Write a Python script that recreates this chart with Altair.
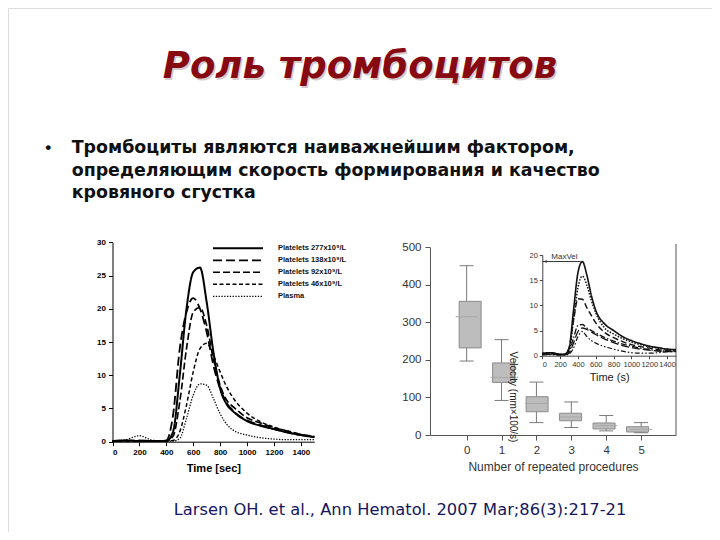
import altair as alt
import pandas as pd

# ---------------- header / footer text ----------------
TITLE = "Роль тромбоцитов"
BULLET_LINES = [
    "Тромбоциты являются наиважнейшим фактором,",
    "определяющим скорость формирования и качество",
    "кровяного сгустка",
]
CITATION = "Larsen OH. et al., Ann Hematol. 2007 Mar;86(3):217-21"
VELOCITY_LABEL = "Velocity (mm×100/s)"

# ---------------- left chart: clot formation curves ----------------
TIME_L = [0, 100, 200, 300, 400, 450, 500, 550, 600, 650, 700, 750, 800, 850, 900,
          1000, 1100, 1200, 1300, 1400, 1500]
P277 = [0.1, 0.2, 0.1, 0.1, 0.1, 1.5, 10.0, 20.0, 25.5, 26.2, 21.0, 13.5, 8.0, 5.6, 4.5,
        3.1, 2.4, 1.9, 1.4, 1.0, 0.7]
P138 = [0.1, 0.1, 0.2, 0.1, 0.2, 4.0, 14.0, 19.5, 21.6, 20.0, 16.5, 11.5, 8.0, 5.8, 4.6,
        3.2, 2.5, 1.9, 1.4, 1.0, 0.7]
P92 = [0.1, 0.1, 0.1, 0.1, 0.1, 0.8, 6.0, 14.0, 19.5, 20.2, 17.5, 12.5, 8.5, 6.2, 5.2,
       3.6, 2.8, 2.1, 1.6, 1.1, 0.8]
P46 = [0.1, 0.1, 0.1, 0.1, 0.1, 0.2, 1.5, 5.5, 10.5, 14.0, 14.8, 13.0, 10.5, 8.2, 6.5,
       4.3, 3.0, 2.2, 1.6, 1.1, 0.7]
PLASMA = [0.0, 0.3, 0.9, 0.2, 0.1, 0.1, 0.5, 3.5, 7.0, 8.7, 8.5, 6.5, 4.2, 2.6, 1.7,
          1.0, 0.6, 0.4, 0.3, 0.3, 0.3]
SERIES_L = ["Platelets 277x10⁹/L", "Platelets 138x10⁹/L", "Platelets 92x10⁹/L",
            "Platelets 46x10⁹/L", "Plasma"]
VALUES_L = [P277, P138, P92, P46, PLASMA]
X_TICKS_L = [0, 200, 400, 600, 800, 1000, 1200, 1400]
Y_TICKS_L = [0, 5, 10, 15, 20, 25, 30]

# ---------------- right chart: box plots ----------------
PROC = [0, 1, 2, 3, 4, 5]
WHISK_LO = [197, 92, 33, 20, 11, 6]
Q1 = [232, 140, 62, 38, 16, 8]
MEDIAN = [315, 153, 84, 48, 25, 15]
Q3 = [356, 192, 102, 58, 32, 22]
WHISK_HI = [451, 254, 141, 88, 52, 33]
Y_TICKS_R = [0, 100, 200, 300, 400, 500]

# ---------------- inset: velocity curves ----------------
TIME_I = [0, 100, 200, 250, 300, 350, 400, 450, 500, 550, 600, 700, 800, 900, 1000,
          1100, 1200, 1300, 1400, 1500]
V1 = [0.5, 0.6, 0.3, 0.3, 1.5, 9.0, 16.5, 18.7, 16.0, 12.0, 9.0, 6.3, 5.0, 3.8, 3.0,
      2.4, 1.9, 1.6, 1.3, 1.2]
V2 = [0.4, 0.5, 0.3, 0.3, 1.0, 7.0, 13.5, 15.8, 14.0, 11.0, 8.5, 5.5, 4.3, 3.4, 2.7,
      2.2, 1.8, 1.5, 1.3, 1.1]
V3 = [0.3, 0.4, 0.2, 0.2, 1.5, 7.0, 11.3, 11.2, 9.5, 8.0, 6.5, 4.6, 3.6, 2.8, 2.2,
      1.8, 1.5, 1.2, 1.0, 0.9]
V4 = [0.3, 0.3, 0.2, 0.2, 0.8, 3.5, 6.0, 6.2, 5.5, 5.0, 4.5, 3.6, 2.9, 2.3, 1.9,
      1.5, 1.2, 1.0, 0.9, 0.8]
V5 = [0.2, 0.3, 0.2, 0.2, 0.5, 2.5, 4.8, 5.5, 5.2, 4.7, 4.2, 3.3, 2.6, 2.0, 1.6,
      1.3, 1.1, 0.9, 0.8, 0.8]
V6 = [0.2, 0.2, 0.1, 0.1, 0.3, 1.5, 3.8, 4.8, 3.8, 3.0, 2.5, 1.8, 1.3, 0.9, 0.6,
      0.5, 0.5, 0.6, 0.8, 1.0]
SERIES_I = ["a", "b", "c", "d", "e", "f"]
VALUES_I = [V1, V2, V3, V4, V5, V6]
X_TICKS_I = [0, 200, 400, 600, 800, 1000, 1200, 1400]
Y_TICKS_I = [0, 5, 10, 15, 20]
MAXVEL_T = 431
MAXVEL_V = 18.7

# ---------------- tables ----------------
df_left = pd.DataFrame(
    [{"t": t, "v": v, "series": s} for s, vals in zip(SERIES_L, VALUES_L)
     for t, v in zip(TIME_L, vals)]
)
df_leg = pd.DataFrame({"series": SERIES_L, "row": list(range(len(SERIES_L)))})
df_box = pd.DataFrame({"proc": PROC, "lo": WHISK_LO, "q1": Q1, "med": MEDIAN,
                       "q3": Q3, "hi": WHISK_HI})
df_inset = pd.DataFrame(
    [{"t": t, "v": v, "series": s} for s, vals in zip(SERIES_I, VALUES_I)
     for t, v in zip(TIME_I, vals)]
)
df_maxvel = pd.DataFrame({"t0": [0], "t1": [MAXVEL_T], "v": [MAXVEL_V], "label": ["MaxVel"]})

FONT = "Liberation Sans"
W, H = 704, 524

# ---------------- scales ----------------
lx = alt.Scale(domain=[0, 1500], range=[104.5, 306.3], nice=False, zero=False)
ly = alt.Scale(domain=[0, 30], range=[433.7, 234.3], nice=False, zero=False)
leg_y = alt.Scale(domain=[0, 4], range=[240.3, 288.3], nice=False, zero=False)
bx = alt.Scale(domain=[-1.05, 6], range=[422, 668], nice=False, zero=False)
by = alt.Scale(domain=[0, 500], range=[427, 239.3], nice=False, zero=False)
ix = alt.Scale(domain=[0, 1500], range=[534.3, 668], nice=False, zero=False)
iy = alt.Scale(domain=[0, 20], range=[347.7, 247], nice=False, zero=False)

dash_l = alt.Scale(domain=SERIES_L, range=[[1, 0], [9, 4], [7, 3], [4, 2.5], [1.3, 1.5]])
width_l = alt.Scale(domain=SERIES_L, range=[2.0, 1.3, 1.3, 1.2, 1.0])
dash_i = alt.Scale(domain=SERIES_I, range=[[1, 0], [1.5, 1.5], [6, 3], [6, 2, 1.5, 2],
                                           [8, 3], [5, 2, 1.5, 2, 1.5, 2]])
width_i = alt.Scale(domain=SERIES_I, range=[1.6, 1.2, 1.2, 1.2, 1.3, 1.1])

ax_left = dict(labelFont=FONT, labelFontWeight="bold", labelFontSize=8, labelColor="black",
               domainColor="black", tickColor="black", tickSize=4, grid=False, labelPadding=3,
               format="d", labelOverlap=False)
ax_box = dict(labelFont=FONT, labelFontSize=11.5, labelColor="#333333", domainColor="#555555",
              tickColor="#555555", tickSize=5, grid=False, labelPadding=4, format="d",
              labelOverlap=False)
ax_in = dict(labelFont=FONT, labelFontSize=7.5, labelColor="#333333", domainColor="#444444",
             tickColor="#444444", tickSize=3, grid=False, labelPadding=2, format="d",
             labelOverlap=False)

# ---------------- left chart ----------------
left_lines = alt.Chart(df_left).mark_line(interpolate="monotone", color="black").encode(
    x=alt.X("t:Q", scale=lx, axis=alt.Axis(orient="bottom", offset=433.7 - H, values=X_TICKS_L,
                                           title="Time [sec]", titleFont=FONT, titleFontSize=11,
                                           titleFontWeight="bold", titleColor="black",
                                           titlePadding=6, **ax_left)),
    y=alt.Y("v:Q", scale=ly, axis=alt.Axis(orient="left", offset=-104.5, values=Y_TICKS_L,
                                           title=None, **ax_left)),
    strokeDash=alt.StrokeDash("series:N", scale=dash_l, legend=None),
    strokeWidth=alt.StrokeWidth("series:N", scale=width_l, legend=None),
)
leg_lines = alt.Chart(df_leg).mark_rule(color="black").encode(
    x=alt.value(205), x2=alt.value(255),
    y=alt.Y("row:Q", scale=leg_y, axis=None),
    strokeDash=alt.StrokeDash("series:N", scale=dash_l, legend=None),
    strokeWidth=alt.StrokeWidth("series:N", scale=width_l, legend=None),
)
leg_text = alt.Chart(df_leg).mark_text(align="left", baseline="middle", font=FONT,
                                       fontSize=7.5, fontWeight="bold", color="#111111").encode(
    x=alt.value(270), y=alt.Y("row:Q", scale=leg_y, axis=None), text="series:N"
)

# ---------------- box chart ----------------
whisk = alt.Chart(df_box).mark_rule(color="#7a7a7a").encode(
    x=alt.X("proc:Q", scale=bx, axis=alt.Axis(orient="bottom", offset=427 - H, values=PROC,
                                              title="Number of repeated procedures",
                                              titleFont=FONT, titleFontSize=12,
                                              titleFontWeight="normal", titleColor="#333333",
                                              titlePadding=6, **ax_box)),
    y=alt.Y("lo:Q", scale=by, axis=alt.Axis(orient="left", offset=-422, values=Y_TICKS_R,
                                            title=None, **ax_box)),
    y2="hi:Q",
)
box = alt.Chart(df_box).mark_bar(size=22, fill="#bdbdbd", stroke="#8c8c8c", strokeWidth=1).encode(
    x=alt.X("proc:Q", scale=bx, axis=None),
    y=alt.Y("q1:Q", scale=by, axis=None), y2="q3:Q",
)
med = alt.Chart(df_box).mark_rule(color="#a8a8a8", xOffset=-11, x2Offset=11).encode(
    x=alt.X("proc:Q", scale=bx, axis=None), x2="proc:Q",
    y=alt.Y("med:Q", scale=by, axis=None),
)
cap_hi = alt.Chart(df_box).mark_rule(color="#7a7a7a", xOffset=-7, x2Offset=7).encode(
    x=alt.X("proc:Q", scale=bx, axis=None), x2="proc:Q",
    y=alt.Y("hi:Q", scale=by, axis=None),
)
cap_lo = alt.Chart(df_box).mark_rule(color="#7a7a7a", xOffset=-7, x2Offset=7).encode(
    x=alt.X("proc:Q", scale=bx, axis=None), x2="proc:Q",
    y=alt.Y("lo:Q", scale=by, axis=None),
)
frame = alt.Chart(df_box.head(1)).mark_rule(color="#555555").encode(
    x=alt.value(668), y=alt.value(236), y2=alt.value(427)
)

# ---------------- inset ----------------
inset_lines = alt.Chart(df_inset).mark_line(interpolate="monotone", color="#111111").encode(
    x=alt.X("t:Q", scale=ix, axis=alt.Axis(orient="bottom", offset=347.7 - H, values=X_TICKS_I,
                                           title="Time (s)", titleFont=FONT, titleFontSize=11,
                                           titleFontWeight="normal", titleColor="#222222",
                                           titlePadding=3, **ax_in)),
    y=alt.Y("v:Q", scale=iy, axis=alt.Axis(orient="left", offset=-534.3, values=Y_TICKS_I,
                                           title=None, **ax_in)),
    strokeDash=alt.StrokeDash("series:N", scale=dash_i, legend=None),
    strokeWidth=alt.StrokeWidth("series:N", scale=width_i, legend=None),
)
maxvel_rule = alt.Chart(df_maxvel).mark_rule(color="#333333").encode(
    x=alt.X("t0:Q", scale=ix, axis=None), x2="t1:Q",
    y=alt.Y("v:Q", scale=iy, axis=None),
)
maxvel_arrow = alt.Chart(df_maxvel).mark_point(shape="triangle-left", filled=True, size=12,
                                               color="#333333", xOffset=3).encode(
    x=alt.X("t0:Q", scale=ix, axis=None), y=alt.Y("v:Q", scale=iy, axis=None),
)
maxvel_text = alt.Chart(df_maxvel).mark_text(align="left", baseline="bottom", font=FONT,
                                             fontSize=8, color="#333333", dx=9, dy=-1).encode(
    x=alt.X("t0:Q", scale=ix, axis=None), y=alt.Y("v:Q", scale=iy, axis=None), text="label:N",
)

# ---------------- texts ----------------
TITLE_FONT = "DejaVu Sans"
title_shadow = alt.Chart(pd.DataFrame({"s": [TITLE]})).mark_text(
    font=TITLE_FONT, fontSize=37, fontWeight="bold", fontStyle="italic", color="#3a0000",
    opacity=0.2, align="center", baseline="alphabetic", dx=1.5, dy=1.5
).encode(x=alt.value(352), y=alt.value(70.3), text="s:N")
title = alt.Chart(pd.DataFrame({"s": [TITLE]})).mark_text(
    font=TITLE_FONT, fontSize=37, fontWeight="bold", fontStyle="italic", color="#870a12",
    align="center", baseline="alphabetic"
).encode(x=alt.value(352), y=alt.value(70.3), text="s:N")

df_bul = pd.DataFrame({"line": BULLET_LINES, "i": list(range(len(BULLET_LINES)))})
bullet_text = alt.Chart(df_bul).mark_text(
    font="DejaVu Sans", fontSize=17.4, fontWeight="bold", color="#111111",
    align="left", baseline="alphabetic"
).encode(x=alt.value(63.7),
         y=alt.Y("i:Q", scale=alt.Scale(domain=[0, 2], range=[145.3, 190.3], nice=False,
                                        zero=False), axis=None),
         text="line:N")
bullet = alt.Chart(pd.DataFrame({"s": ["•"]})).mark_text(
    font=FONT, fontSize=17, fontWeight="bold", color="#111111", align="center",
    baseline="alphabetic"
).encode(x=alt.value(40.3), y=alt.value(145.3), text="s:N")

velocity = alt.Chart(pd.DataFrame({"s": [VELOCITY_LABEL]})).mark_text(
    font=FONT, fontSize=10, color="#222222", angle=90, align="center", baseline="middle"
).encode(x=alt.value(505), y=alt.value(389), text="s:N")

citation = alt.Chart(pd.DataFrame({"s": [CITATION]})).mark_text(
    font="DejaVu Sans", fontSize=16.3, color="#16165e", align="center", baseline="middle"
).encode(x=alt.value(392), y=alt.value(502), text="s:N")

chart = alt.layer(
    left_lines, leg_lines, leg_text,
    whisk, box, med, cap_hi, cap_lo, frame,
    inset_lines, maxvel_rule, maxvel_arrow, maxvel_text,
    title_shadow, title, bullet, bullet_text, velocity, citation,
).resolve_scale(
    x="independent", y="independent", strokeDash="independent", strokeWidth="independent"
).properties(
    width=W, height=H, autosize=alt.AutoSizeParams(type="none"), padding=0
).configure_view(stroke=None).configure(background="white")

chart.save("out.html", embed_options={"renderer": "svg", "actions": False})
